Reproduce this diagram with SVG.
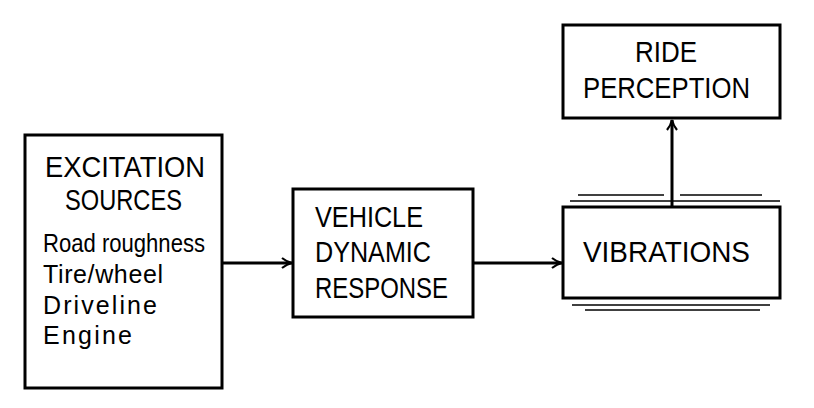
<svg xmlns="http://www.w3.org/2000/svg" width="814" height="408" viewBox="0 0 814 408">
<style>
.box{fill:#fff;stroke:#000;stroke-width:3}
.t{font-family:"Liberation Sans",Arial,sans-serif;fill:#000}
.h{font-size:29px}
.s{font-size:25px}
.c{stroke:#000;stroke-width:3;fill:none}
.d{stroke:#000;stroke-width:1.5;fill:none}
</style>
<defs>
<marker id="ah" viewBox="0 0 12 12" refX="11" refY="6" markerWidth="12" markerHeight="12" markerUnits="userSpaceOnUse" orient="auto">
<path d="M1,1 Q6,5 11,6 Q6,7 1,11" fill="none" stroke="#000" stroke-width="2.2"/>
</marker>
</defs>
<rect width="814" height="408" fill="#fff"/>
<g id="excitation">
<rect class="box" x="25" y="135" width="197" height="253"/>
<text class="t h" x="45" y="177" font-size="31" textLength="160" lengthAdjust="spacingAndGlyphs">EXCITATION</text>
<text class="t h" x="65" y="210" textLength="117" lengthAdjust="spacingAndGlyphs">SOURCES</text>
<text class="t s" x="43" y="252" textLength="162" lengthAdjust="spacingAndGlyphs">Road roughness</text>
<text class="t s" x="43" y="283" textLength="120">Tire/wheel</text>
<text class="t s" x="43" y="314" textLength="114">Driveline</text>
<text class="t s" x="43" y="344" textLength="89">Engine</text>
</g>
<g id="vehicle">
<rect class="box" x="293" y="189" width="180" height="128"/>
<text class="t h" x="315" y="227" textLength="108" lengthAdjust="spacingAndGlyphs">VEHICLE</text>
<text class="t h" x="315" y="262" textLength="116" lengthAdjust="spacingAndGlyphs">DYNAMIC</text>
<text class="t h" x="315" y="298" textLength="133" lengthAdjust="spacingAndGlyphs">RESPONSE</text>
</g>
<g id="vibrations">
<rect class="box" x="563" y="207" width="217" height="91"/>
<text class="t h" x="583" y="262" textLength="167" lengthAdjust="spacingAndGlyphs">VIBRATIONS</text>
<line class="d" x1="578" y1="195" x2="664" y2="195"/>
<line class="d" x1="680" y1="195" x2="762" y2="195"/>
<line class="d" x1="570" y1="201" x2="780" y2="201"/>
<line class="d" x1="572" y1="305" x2="770" y2="305"/>
<line class="d" x1="585" y1="310" x2="760" y2="310"/>
</g>
<g id="ride">
<rect class="box" x="563" y="25" width="217" height="93"/>
<text class="t h" x="635" y="62" textLength="62" lengthAdjust="spacingAndGlyphs">RIDE</text>
<text class="t h" x="583" y="98" textLength="167" lengthAdjust="spacingAndGlyphs">PERCEPTION</text>
</g>
<g id="connectors">
<line class="c" x1="222" y1="263" x2="292" y2="263" marker-end="url(#ah)"/>
<line class="c" x1="473" y1="263" x2="562" y2="263" marker-end="url(#ah)"/>
<line class="c" x1="672" y1="207" x2="672" y2="120" marker-end="url(#ah)"/>
</g>
</svg>
